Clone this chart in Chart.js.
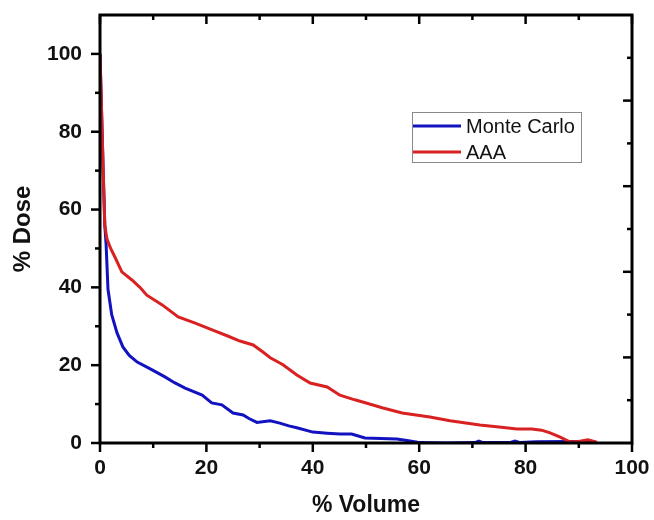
<!DOCTYPE html>
<html>
<head>
<meta charset="utf-8">
<script src="https://cdn.jsdelivr.net/npm/chart.js@4.4.1/dist/chart.umd.min.js"></script>
<style>
  html, body { margin: 0; padding: 0; background: #ffffff; }
  #wrap { width: 654px; height: 520px; position: relative; }
</style>
</head>
<body>
<div id="wrap"><canvas id="c" width="654" height="520"></canvas></div>
<script>
// ---- data ----
const seriesNames = ["Monte Carlo", "AAA"];
const seriesColors = ["#1212c0", "#d92121"];

const mcVolume = [0, 0.3, 0.6, 0.9, 1.15, 1.5, 2.2, 3.2, 4.3, 5.5, 7.0, 9.8, 12.2, 14.0, 16.0, 19.2, 21.0, 22.9, 25.0, 26.9, 28.0, 29.5, 32.0, 33.8, 35.5, 37.0, 40.0, 42.7, 45.1, 47.3, 49.8, 55.8, 58.0, 60.2, 65.0, 70.5, 71.2, 72.0, 77.0, 78.0, 79.0, 82.0, 88.0, 93.0];
const mcDose   = [100, 85, 70, 56, 51, 39.5, 33, 28.3, 24.7, 22.5, 20.8, 18.8, 17.0, 15.5, 14.1, 12.3, 10.3, 9.8, 7.7, 7.2, 6.3, 5.3, 5.7, 5.1, 4.4, 3.9, 2.8, 2.5, 2.3, 2.3, 1.3, 1.0, 0.6, 0.1, 0, 0.1, 0.5, 0.1, 0.1, 0.5, 0.1, 0.3, 0.4, 0.3];

const aaaVolume = [0, 0.3, 0.6, 0.9, 1.3, 2.0, 2.8, 4.1, 6.0, 7.5, 8.8, 11.7, 14.7, 17.9, 21.2, 24.0, 26.3, 28.8, 30.5, 32.0, 34.4, 37.0, 39.5, 42.7, 45.1, 47.9, 50.5, 53.2, 56.8, 62.0, 65.8, 71.4, 75.0, 78.4, 81.2, 83.0, 84.6, 86.5, 88.3, 89.7, 91.7, 93.4];
const aaaDose   = [100, 85, 70, 56, 52.5, 50, 47.8, 44, 41.9, 40, 38.0, 35.5, 32.4, 30.8, 29.0, 27.5, 26.2, 25.2, 23.5, 21.9, 20.1, 17.5, 15.4, 14.4, 12.3, 11.1, 10.1, 9.0, 7.7, 6.7, 5.7, 4.6, 4.1, 3.6, 3.6, 3.3, 2.6, 1.5, 0.3, 0.3, 0.8, 0.2];

// tick values
const xMajorTicks = [0, 20, 40, 60, 80, 100];
const xMinorTicks = [10, 30, 50, 70, 90];
const yMajorTicks = [0, 20, 40, 60, 80, 100];
const yMinorTicks = [10, 30, 50, 70, 90];
const rightMajorTicks = [20, 40, 60, 80];
const rightMinorTicks = [10, 30, 50, 70, 90];

const xTitle = "% Volume";
const yTitle = "% Dose";

function pairs(xs, ys) { return xs.map((x, i) => ({ x: x, y: ys[i] })); }

const FONT = "'Liberation Sans', Arial, Helvetica, sans-serif";

function noPad(s) { s.paddingTop = 0; s.paddingBottom = 0; s.paddingLeft = 0; s.paddingRight = 0; }

const frameTicks = {
  id: 'frameTicks',
  afterDraw(chart) {
    const ctx = chart.ctx;
    const a = chart.chartArea;
    const xs = chart.scales.x, ys = chart.scales.y, yr = chart.scales.y2;
    const MAJ = 9, MIN = 5;
    ctx.save();
    ctx.strokeStyle = '#000';
    ctx.lineCap = 'butt';
    ctx.lineWidth = 2.5;
    const tick = (x1, y1, x2, y2) => { ctx.beginPath(); ctx.moveTo(x1, y1); ctx.lineTo(x2, y2); ctx.stroke(); };
    // bottom (outward) and top (inward)
    xMajorTicks.forEach(v => { const p = xs.getPixelForValue(v); tick(p, a.bottom, p, a.bottom + MAJ); tick(p, a.top, p, a.top + MAJ); });
    xMinorTicks.forEach(v => { const p = xs.getPixelForValue(v); tick(p, a.bottom, p, a.bottom + MIN); tick(p, a.top, p, a.top + MIN); });
    // left (outward)
    yMajorTicks.forEach(v => { const p = ys.getPixelForValue(v); tick(a.left, p, a.left - MAJ, p); });
    yMinorTicks.forEach(v => { const p = ys.getPixelForValue(v); tick(a.left, p, a.left - MIN, p); });
    // right (inward, own 0-100 scale)
    rightMajorTicks.forEach(v => { const p = yr.getPixelForValue(v); tick(a.right, p, a.right - MAJ, p); });
    rightMinorTicks.forEach(v => { const p = yr.getPixelForValue(v); tick(a.right, p, a.right - MIN, p); });
    // frame
    ctx.lineWidth = 3;
    ctx.lineJoin = 'miter';
    ctx.strokeRect(a.left, a.top, a.right - a.left, a.bottom - a.top);
    ctx.restore();
  }
};

const boxLegend = {
  id: 'boxLegend',
  afterDraw(chart) {
    const ctx = chart.ctx;
    const bx = 412, by = 112, bw = 169, bh = 50;
    ctx.save();
    ctx.fillStyle = '#ffffff';
    ctx.fillRect(bx, by, bw, bh);
    ctx.strokeStyle = '#8a8a8a';
    ctx.lineWidth = 1;
    ctx.strokeRect(bx + 0.5, by + 0.5, bw, bh);
    ctx.font = "20px " + FONT;
    ctx.textBaseline = 'middle';
    ctx.textAlign = 'left';
    chart.data.datasets.forEach((ds, i) => {
      const ly = by + 14 + i * 26;
      ctx.strokeStyle = ds.borderColor;
      ctx.lineWidth = 3;
      ctx.beginPath(); ctx.moveTo(bx + 1, ly); ctx.lineTo(bx + 49, ly); ctx.stroke();
      ctx.fillStyle = '#111';
      ctx.fillText(ds.label, bx + 54, ly + 1);
    });
    ctx.restore();
  }
};

new Chart(document.getElementById('c'), {
  type: 'line',
  data: {
    datasets: [
      { label: seriesNames[0], data: pairs(mcVolume, mcDose), borderColor: seriesColors[0], borderWidth: 3, pointRadius: 0, tension: 0, fill: false, order: 1 },
      { label: seriesNames[1], data: pairs(aaaVolume, aaaDose), borderColor: seriesColors[1], borderWidth: 3, pointRadius: 0, tension: 0, fill: false, order: 0 }
    ]
  },
  options: {
    responsive: false,
    animation: false,
    devicePixelRatio: 1,
    layout: { padding: { left: 0, right: 22, top: 15, bottom: 0 } },
    plugins: { legend: { display: false }, tooltip: { enabled: false } },
    scales: {
      x: {
        type: 'linear', position: 'bottom', min: 0, max: 100,
        afterBuildTicks: s => { s.ticks = xMajorTicks.map(v => ({ value: v })); },
        afterFit: s => { s.height = 77; noPad(s); },
        grid: { display: false, drawTicks: false },
        border: { display: false },
        ticks: { color: '#111', font: { family: FONT, size: 21, weight: 'bold' }, padding: 13, maxRotation: 0 },
        title: { display: true, text: xTitle, color: '#111', font: { family: FONT, size: 23, weight: 'bold' }, padding: { top: 1, bottom: 1 } }
      },
      y: {
        type: 'linear', position: 'left', min: 0, max: 110,
        afterBuildTicks: s => { s.ticks = yMajorTicks.map(v => ({ value: v })); },
        afterFit: s => { s.width = 100; noPad(s); },
        grid: { display: false, drawTicks: false },
        border: { display: false },
        ticks: { color: '#111', font: { family: FONT, size: 21, weight: 'bold' }, padding: 18 },
        title: { display: true, text: yTitle, color: '#111', font: { family: FONT, size: 24, weight: 'bold' }, padding: { top: 9, bottom: 9 } }
      },
      y2: {
        type: 'linear', position: 'right', min: 0, max: 100, display: false,
        afterFit: s => { noPad(s); }
      }
    }
  },
  plugins: [frameTicks, boxLegend]
});
</script>
</body>
</html>
